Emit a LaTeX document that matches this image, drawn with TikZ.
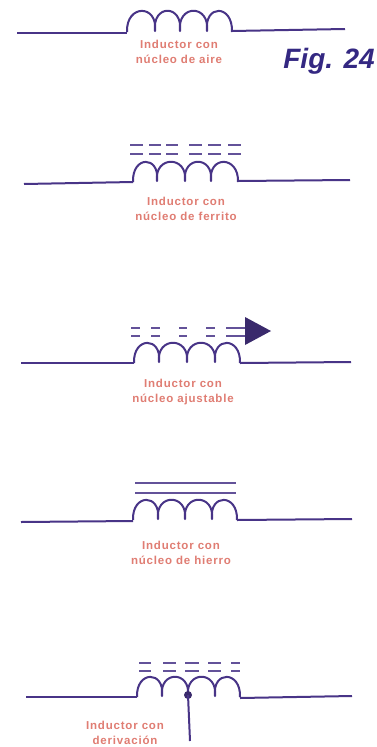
\documentclass[tikz,border=0pt]{standalone}
\usepackage{fontspec}
\setmainfont{Liberation Sans}
\newfontfamily\labelfont[LetterSpace=7]{Liberation Sans}
\definecolor{wirecol}{RGB}{72,52,135}
\definecolor{labelcol}{RGB}{224,125,115}
\definecolor{figcol}{RGB}{52,40,130}
\tikzset{
  wire/.style={draw=wirecol,line width=2pt,line join=round},
  corewire/.style={draw=wirecol!85,line width=1.8pt},
  caption/.style={text=labelcol,font=\labelfont\bfseries\fontsize{11.5}{15.5}\selectfont,align=center,inner sep=0pt}
}
% #1 start x, #2-#4 cusps, #5 end x, #6 wire y, #7 top y
\newcommand{\coil}[7]{
  \pgfmathsetmacro{\ctrly}{#6-(#6-#7+1)/0.75}
  \draw[wire] (#1,#6) .. controls (#1-1,\ctrly) and (#2+3,\ctrly) .. (#2,#6-1)
    .. controls (#2-3,\ctrly) and (#3+3,\ctrly) .. (#3,#6-1)
    .. controls (#3-3,\ctrly) and (#4+3,\ctrly) .. (#4,#6-1)
    .. controls (#4-3,\ctrly) and (#5+1,\ctrly) .. (#5,#6);
}
\begin{document}
\begin{tikzpicture}[x=1pt,y=-1pt]
  \useasboundingbox (0,0) rectangle (377,747);
  \fill[white] (0,0) rectangle (377,747);

  % air core
  \coordinate (aL) at (17,33);
  \coordinate (aA) at (127,33);
  \coordinate (aB) at (232,31);
  \coordinate (aR) at (345,29);
  \draw[wire] (aL) -- (aA);
  \coil{127}{155}{180}{207}{232}{32}{12}
  \draw[wire] (aB) -- (aR);
  \node[caption] (airtext) at (179,52) {Inductor con\\núcleo de aire};
  \node[text=figcol,font=\bfseries\itshape\fontsize{28}{28}\selectfont,inner sep=0pt] (figtext) at (329,61) {Fig. 24};

  % ferrite core
  \coordinate (fL) at (24,184);
  \coordinate (fA) at (133,182);
  \coordinate (fB) at (238,181);
  \coordinate (fR) at (350,180);
  \draw[wire] (fL) -- (fA);
  \coil{133}{157}{185}{211}{238}{182}{163}
  \draw[wire] (fB) -- (fR);
  \foreach \xa/\xb in {130/143,149/161,166/178,189/202,208/221,228/241}{
    \draw[corewire] (\xa,145) -- (\xb,145);
    \draw[corewire] (\xa,154) -- (\xb,154);
  }
  \node[caption] (ferrtext) at (186,209) {Inductor con\\núcleo de ferrito};

  % adjustable core
  \coordinate (jL) at (21,363);
  \coordinate (jA) at (134,363);
  \coordinate (jB) at (240,363);
  \coordinate (jR) at (351,362);
  \draw[wire] (jL) -- (jA);
  \coil{134}{159}{187}{215}{240}{363}{344}
  \draw[wire] (jB) -- (jR);
  \foreach \xa/\xb in {131/140,151/160,179/187,206/215,226/245}{
    \draw[corewire] (\xa,328) -- (\xb,328);
    \draw[corewire] (\xa,336) -- (\xb,336);
  }
  \fill[wirecol!80!black] (245,317) -- (271,331) -- (245,345) -- cycle;
  \node[caption] (ajustext) at (183,392) {Inductor con\\núcleo ajustable};

  % iron core
  \coordinate (hL) at (21,522);
  \coordinate (hA) at (133,521);
  \coordinate (hB) at (237,520);
  \coordinate (hR) at (352,519);
  \draw[wire] (hL) -- (hA);
  \coil{133}{158}{185}{212}{237}{520}{501}
  \draw[wire] (hB) -- (hR);
  \coordinate (t1) at (135,483);
  \coordinate (t2) at (236,483);
  \coordinate (b1) at (135,493);
  \coordinate (b2) at (236,493);
  \draw[corewire] (t1) -- (t2);
  \draw[corewire] (b1) -- (b2);
  \node[caption] (hierrotext) at (181,553) {Inductor con\\núcleo de hierro};

  % tapped coil
  \coordinate (dL) at (26,697);
  \coordinate (dA) at (137,697);
  \coordinate (dB) at (240,698);
  \coordinate (dR) at (352,696);
  \coordinate (tap) at (188,695);
  \coordinate (tapend) at (190,741);
  \draw[wire] (dL) -- (dA);
  \coil{137}{162}{188}{215}{240}{697}{678}
  \draw[wire] (dB) -- (dR);
  \foreach \xa/\xb in {139/151,163/176,185/199,208/221,231/240}{
    \draw[corewire] (\xa,663) -- (\xb,663);
    \draw[corewire] (\xa,671) -- (\xb,671);
  }
  \fill[wirecol!80!black] (tap) circle (4);
  \draw[wire] (tap) -- (tapend);
  \node[caption] (tapnode) at (125,733) {Inductor con\\derivación};
\end{tikzpicture}
\end{document}
